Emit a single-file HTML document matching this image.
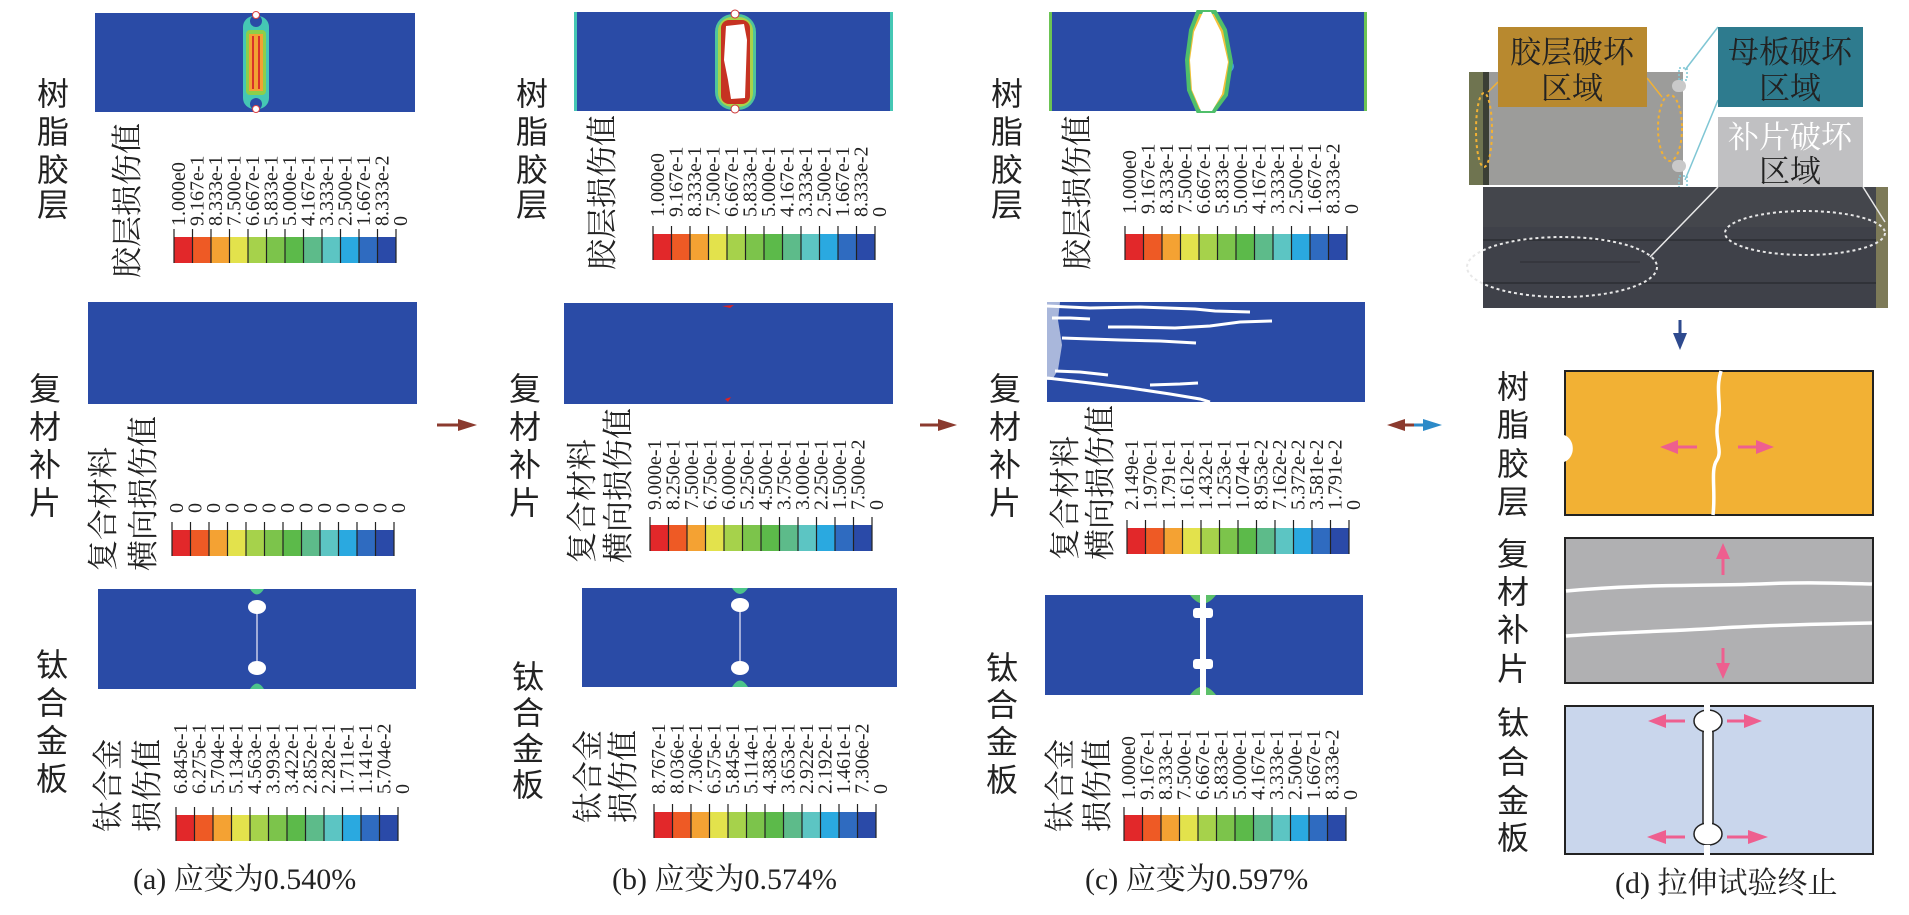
<!DOCTYPE html>
<html><head><meta charset="utf-8"><style>
html,body{margin:0;padding:0;background:#fff;}
svg{display:block;}
.lab{font-family:"Liberation Sans","Noto Sans CJK SC",sans-serif;font-size:32px;fill:#222;text-anchor:middle;}
.ttl{font-family:"Liberation Serif","Noto Serif CJK SC",serif;font-size:31px;fill:#222;}
.num{font-family:"Liberation Serif","Noto Serif CJK SC",serif;font-size:20px;fill:#222;}
.cap{font-family:"Liberation Serif","Noto Serif CJK SC",serif;font-size:30px;fill:#222;}
.box{font-family:"Liberation Serif","Noto Serif CJK SC",serif;font-size:31px;text-anchor:middle;}
</style></head><body>
<svg width="1909" height="915" viewBox="0 0 1909 915" xmlns="http://www.w3.org/2000/svg">
<defs>
<g id="bar">
<rect x="0" y="0" width="18.5" height="1" fill="#e3262b"/>
</g>
<g id="cells">
<rect x="0" width="18.5" height="26" fill="#e2282a"/>
<rect x="18.5" width="18.5" height="26" fill="#ee5a25"/>
<rect x="37" width="18.5" height="26" fill="#f4a233"/>
<rect x="55.5" width="18.5" height="26" fill="#e3e24c"/>
<rect x="74" width="18.5" height="26" fill="#a6d24b"/>
<rect x="92.5" width="18.5" height="26" fill="#7cc44b"/>
<rect x="111" width="18.5" height="26" fill="#5cba4a"/>
<rect x="129.5" width="18.5" height="26" fill="#5dbb8a"/>
<rect x="148" width="18.5" height="26" fill="#5cc5c3"/>
<rect x="166.5" width="18.5" height="26" fill="#2aa9e0"/>
<rect x="185" width="18.5" height="26" fill="#2f6bc0"/>
<rect x="203.5" width="18.5" height="26" fill="#2a4aa8"/>
<g stroke="#222" stroke-width="1.2">
<line x1="0" y1="-8" x2="0" y2="26"/><line x1="18.5" y1="-8" x2="18.5" y2="26"/><line x1="37" y1="-8" x2="37" y2="26"/><line x1="55.5" y1="-8" x2="55.5" y2="26"/><line x1="74" y1="-8" x2="74" y2="26"/><line x1="92.5" y1="-8" x2="92.5" y2="26"/><line x1="111" y1="-8" x2="111" y2="26"/><line x1="129.5" y1="-8" x2="129.5" y2="26"/><line x1="148" y1="-8" x2="148" y2="26"/><line x1="166.5" y1="-8" x2="166.5" y2="26"/><line x1="185" y1="-8" x2="185" y2="26"/><line x1="203.5" y1="-8" x2="203.5" y2="26"/><line x1="222" y1="-8" x2="222" y2="26"/>
</g>
</g>
</defs>

<!-- ============ PANEL A ============ -->
<text class="lab" x="53" y="105">树</text><text class="lab" x="53" y="143">脂</text><text class="lab" x="53" y="181">胶</text><text class="lab" x="53" y="216">层</text>
<text class="lab" x="45" y="400">复</text><text class="lab" x="45" y="438">材</text><text class="lab" x="45" y="476">补</text><text class="lab" x="45" y="514">片</text>
<text class="lab" x="52" y="676">钛</text><text class="lab" x="52" y="714">合</text><text class="lab" x="52" y="752">金</text><text class="lab" x="52" y="790">板</text>

<rect x="95" y="13" width="320" height="99" fill="#2a4ba6"/>
<rect x="243" y="16" width="26" height="93" rx="11" fill="#45c7b4"/>
<rect x="246" y="30" width="20" height="65" rx="4" fill="#8ccf4a"/>
<rect x="249" y="34" width="14" height="57" fill="#f1a233"/>
<line x1="253" y1="36" x2="253" y2="89" stroke="#d8322a" stroke-width="2"/>
<line x1="259" y1="36" x2="259" y2="89" stroke="#d8322a" stroke-width="2"/>
<circle cx="256" cy="21" r="6" fill="#2a4ba6"/><circle cx="256" cy="104" r="6" fill="#2a4ba6"/>
<circle cx="256" cy="15" r="3.5" fill="#fff" stroke="#d44" stroke-width="1"/><circle cx="256" cy="109" r="3.5" fill="#fff" stroke="#d44" stroke-width="1"/>

<text class="ttl" transform="translate(138,278) rotate(-90)">胶层损伤值</text>
<g transform="translate(174,237)"><use href="#cells"/></g>
<g class="num">
<text transform="translate(185,226) rotate(-90)">1.000e0</text>
<text transform="translate(203.5,226) rotate(-90)">9.167e-1</text>
<text transform="translate(222,226) rotate(-90)">8.333e-1</text>
<text transform="translate(240.5,226) rotate(-90)">7.500e-1</text>
<text transform="translate(259,226) rotate(-90)">6.667e-1</text>
<text transform="translate(277.5,226) rotate(-90)">5.833e-1</text>
<text transform="translate(296,226) rotate(-90)">5.000e-1</text>
<text transform="translate(314.5,226) rotate(-90)">4.167e-1</text>
<text transform="translate(333,226) rotate(-90)">3.333e-1</text>
<text transform="translate(351.5,226) rotate(-90)">2.500e-1</text>
<text transform="translate(370,226) rotate(-90)">1.667e-1</text>
<text transform="translate(388.5,226) rotate(-90)">8.333e-2</text>
<text transform="translate(407,226) rotate(-90)">0</text>
</g>

<rect x="88" y="302" width="329" height="102" fill="#2a4ba6"/>
<text class="ttl" transform="translate(114,571) rotate(-90)">复合材料</text>
<text class="ttl" transform="translate(154,571) rotate(-90)">横向损伤值</text>
<g transform="translate(172,530)"><use href="#cells"/></g>
<g class="num">
<text transform="translate(183,513) rotate(-90)">0</text>
<text transform="translate(201.5,513) rotate(-90)">0</text>
<text transform="translate(220,513) rotate(-90)">0</text>
<text transform="translate(238.5,513) rotate(-90)">0</text>
<text transform="translate(257,513) rotate(-90)">0</text>
<text transform="translate(275.5,513) rotate(-90)">0</text>
<text transform="translate(294,513) rotate(-90)">0</text>
<text transform="translate(312.5,513) rotate(-90)">0</text>
<text transform="translate(331,513) rotate(-90)">0</text>
<text transform="translate(349.5,513) rotate(-90)">0</text>
<text transform="translate(368,513) rotate(-90)">0</text>
<text transform="translate(386.5,513) rotate(-90)">0</text>
<text transform="translate(405,513) rotate(-90)">0</text>
</g>

<rect x="98" y="589" width="318" height="100" fill="#2a4ba6"/>
<path d="M250 589 Q257 600 264 589Z M250 689 Q257 678 264 689Z" fill="#4cc48a"/>
<line x1="257" y1="607" x2="257" y2="668" stroke="#c9cde8" stroke-width="1.5"/>
<ellipse cx="257" cy="607" rx="9" ry="7" fill="#fff"/><ellipse cx="257" cy="668" rx="9" ry="7" fill="#fff"/>
<text class="ttl" transform="translate(119,832) rotate(-90)">钛合金</text>
<text class="ttl" transform="translate(158,832) rotate(-90)">损伤值</text>
<g transform="translate(176,815)"><use href="#cells"/></g>
<g class="num">
<text transform="translate(187,794) rotate(-90)">6.845e-1</text>
<text transform="translate(205.5,794) rotate(-90)">6.275e-1</text>
<text transform="translate(224,794) rotate(-90)">5.704e-1</text>
<text transform="translate(242.5,794) rotate(-90)">5.134e-1</text>
<text transform="translate(261,794) rotate(-90)">4.563e-1</text>
<text transform="translate(279.5,794) rotate(-90)">3.993e-1</text>
<text transform="translate(298,794) rotate(-90)">3.422e-1</text>
<text transform="translate(316.5,794) rotate(-90)">2.852e-1</text>
<text transform="translate(335,794) rotate(-90)">2.282e-1</text>
<text transform="translate(353.5,794) rotate(-90)">1.711e-1</text>
<text transform="translate(372,794) rotate(-90)">1.141e-1</text>
<text transform="translate(390.5,794) rotate(-90)">5.704e-2</text>
<text transform="translate(409,794) rotate(-90)">0</text>
</g>
<text class="cap" x="133" y="889">(a) 应变为0.540%</text>

<!-- arrow a->b -->
<line x1="437" y1="425" x2="462" y2="425" stroke="#8b3a2e" stroke-width="3"/>
<path d="M458 419 L477 425 L458 431Z" fill="#8b3a2e"/>

<!-- ============ PANEL B ============ -->
<text class="lab" x="532" y="105">树</text><text class="lab" x="532" y="143">脂</text><text class="lab" x="532" y="181">胶</text><text class="lab" x="532" y="216">层</text>
<text class="lab" x="525" y="400">复</text><text class="lab" x="525" y="438">材</text><text class="lab" x="525" y="476">补</text><text class="lab" x="525" y="514">片</text>
<text class="lab" x="528" y="688">钛</text><text class="lab" x="528" y="724">合</text><text class="lab" x="528" y="760">金</text><text class="lab" x="528" y="796">板</text>

<rect x="574" y="12" width="319" height="99" fill="#2a4ba6"/>
<rect x="574" y="12" width="3" height="99" fill="#45c7b4"/><rect x="890" y="12" width="3" height="99" fill="#45c7b4"/>
<rect x="715" y="14" width="41" height="96" rx="18" fill="#4fc49a"/>
<rect x="718" y="17" width="35" height="90" rx="14" fill="#a9d24a"/>
<rect x="721" y="20" width="29" height="84" rx="8" fill="#c63222"/>
<path d="M726 26 L744 24 L747 40 L745 98 L731 99 L728 80 L724 60Z" fill="#fff"/>
<circle cx="735" cy="14" r="4" fill="#fff" stroke="#c33" stroke-width="1"/><circle cx="735" cy="109" r="4" fill="#fff" stroke="#c33" stroke-width="1"/>
<text class="ttl" transform="translate(613,270) rotate(-90)">胶层损伤值</text>
<g transform="translate(653,234)"><use href="#cells"/></g>
<g class="num">
<text transform="translate(664,217) rotate(-90)">1.000e0</text>
<text transform="translate(682.5,217) rotate(-90)">9.167e-1</text>
<text transform="translate(701,217) rotate(-90)">8.333e-1</text>
<text transform="translate(719.5,217) rotate(-90)">7.500e-1</text>
<text transform="translate(738,217) rotate(-90)">6.667e-1</text>
<text transform="translate(756.5,217) rotate(-90)">5.833e-1</text>
<text transform="translate(775,217) rotate(-90)">5.000e-1</text>
<text transform="translate(793.5,217) rotate(-90)">4.167e-1</text>
<text transform="translate(812,217) rotate(-90)">3.333e-1</text>
<text transform="translate(830.5,217) rotate(-90)">2.500e-1</text>
<text transform="translate(849,217) rotate(-90)">1.667e-1</text>
<text transform="translate(867.5,217) rotate(-90)">8.333e-2</text>
<text transform="translate(886,217) rotate(-90)">0</text>
</g>

<rect x="564" y="303" width="329" height="101" fill="#2a4ba6"/>
<path d="M722 306 L734 305 L730 308Z" fill="#d22"/><path d="M725 399 L731 397 L728 402Z" fill="#d22"/>
<text class="ttl" transform="translate(593,563) rotate(-90)">复合材料</text>
<text class="ttl" transform="translate(629,563) rotate(-90)">横向损伤值</text>
<g transform="translate(650,525)"><use href="#cells"/></g>
<g class="num">
<text transform="translate(661,510) rotate(-90)">9.000e-1</text>
<text transform="translate(679.5,510) rotate(-90)">8.250e-1</text>
<text transform="translate(698,510) rotate(-90)">7.500e-1</text>
<text transform="translate(716.5,510) rotate(-90)">6.750e-1</text>
<text transform="translate(735,510) rotate(-90)">6.000e-1</text>
<text transform="translate(753.5,510) rotate(-90)">5.250e-1</text>
<text transform="translate(772,510) rotate(-90)">4.500e-1</text>
<text transform="translate(790.5,510) rotate(-90)">3.750e-1</text>
<text transform="translate(809,510) rotate(-90)">3.000e-1</text>
<text transform="translate(827.5,510) rotate(-90)">2.250e-1</text>
<text transform="translate(846,510) rotate(-90)">1.500e-1</text>
<text transform="translate(864.5,510) rotate(-90)">7.500e-2</text>
<text transform="translate(883,510) rotate(-90)">0</text>
</g>

<rect x="582" y="588" width="315" height="99" fill="#2a4ba6"/>
<path d="M732 588 Q740 600 748 588Z M732 687 Q740 674 748 687Z" fill="#4cc48a"/>
<line x1="740" y1="605" x2="740" y2="668" stroke="#c9cde8" stroke-width="1.5"/>
<ellipse cx="740" cy="605" rx="9" ry="7" fill="#fff"/><ellipse cx="740" cy="668" rx="9" ry="7" fill="#fff"/>
<text class="ttl" transform="translate(599,823) rotate(-90)">钛合金</text>
<text class="ttl" transform="translate(634,823) rotate(-90)">损伤值</text>
<g transform="translate(654,812)"><use href="#cells"/></g>
<g class="num">
<text transform="translate(665,794) rotate(-90)">8.767e-1</text>
<text transform="translate(683.5,794) rotate(-90)">8.036e-1</text>
<text transform="translate(702,794) rotate(-90)">7.306e-1</text>
<text transform="translate(720.5,794) rotate(-90)">6.575e-1</text>
<text transform="translate(739,794) rotate(-90)">5.845e-1</text>
<text transform="translate(757.5,794) rotate(-90)">5.114e-1</text>
<text transform="translate(776,794) rotate(-90)">4.383e-1</text>
<text transform="translate(794.5,794) rotate(-90)">3.653e-1</text>
<text transform="translate(813,794) rotate(-90)">2.922e-1</text>
<text transform="translate(831.5,794) rotate(-90)">2.192e-1</text>
<text transform="translate(850,794) rotate(-90)">1.461e-1</text>
<text transform="translate(868.5,794) rotate(-90)">7.306e-2</text>
<text transform="translate(887,794) rotate(-90)">0</text>
</g>
<text class="cap" x="612" y="889">(b) 应变为0.574%</text>

<line x1="920" y1="425" x2="942" y2="425" stroke="#8b3a2e" stroke-width="3"/>
<path d="M938 419 L957 425 L938 431Z" fill="#8b3a2e"/>

<!-- ============ PANEL C ============ -->
<text class="lab" x="1007" y="105">树</text><text class="lab" x="1007" y="143">脂</text><text class="lab" x="1007" y="181">胶</text><text class="lab" x="1007" y="216">层</text>
<text class="lab" x="1005" y="400">复</text><text class="lab" x="1005" y="438">材</text><text class="lab" x="1005" y="476">补</text><text class="lab" x="1005" y="514">片</text>
<text class="lab" x="1002" y="679">钛</text><text class="lab" x="1002" y="716">合</text><text class="lab" x="1002" y="753">金</text><text class="lab" x="1002" y="791">板</text>

<rect x="1049" y="12" width="318" height="99" fill="#2a4ba6"/>
<rect x="1049" y="12" width="3" height="99" fill="#6cc454"/><rect x="1364" y="12" width="3" height="99" fill="#6cc454"/>
<path d="M1218 55 Q1250 65 1218 80Z" fill="#3fa3d8"/>
<path d="M1198 12 L1215 12 L1225 30 L1231 62 L1226 95 L1214 111 L1198 111 L1189 90 L1187 60 L1191 30Z" fill="#f2c13a" stroke="#4fbf6a" stroke-width="4"/>
<path d="M1203 12 L1211 12 L1221 32 L1228 62 L1222 94 L1212 111 L1201 111 L1192 90 L1190 60 L1194 32Z" fill="#fff"/>
<text class="ttl" transform="translate(1088,270) rotate(-90)">胶层损伤值</text>
<g transform="translate(1125,234)"><use href="#cells"/></g>
<g class="num">
<text transform="translate(1136,214) rotate(-90)">1.000e0</text>
<text transform="translate(1154.5,214) rotate(-90)">9.167e-1</text>
<text transform="translate(1173,214) rotate(-90)">8.333e-1</text>
<text transform="translate(1191.5,214) rotate(-90)">7.500e-1</text>
<text transform="translate(1210,214) rotate(-90)">6.667e-1</text>
<text transform="translate(1228.5,214) rotate(-90)">5.833e-1</text>
<text transform="translate(1247,214) rotate(-90)">5.000e-1</text>
<text transform="translate(1265.5,214) rotate(-90)">4.167e-1</text>
<text transform="translate(1284,214) rotate(-90)">3.333e-1</text>
<text transform="translate(1302.5,214) rotate(-90)">2.500e-1</text>
<text transform="translate(1321,214) rotate(-90)">1.667e-1</text>
<text transform="translate(1339.5,214) rotate(-90)">8.333e-2</text>
<text transform="translate(1358,214) rotate(-90)">0</text>
</g>

<rect x="1047" y="302" width="318" height="100" fill="#2a4ba6"/>
<g fill="none" stroke="#fff" stroke-width="3">
<polyline points="1047,306 1090,308 1140,307 1195,309 1215,311 1250,312"/>
<polyline points="1108,327 1130,327 1175,328 1210,326 1240,322 1272,321"/>
<polyline points="1062,338 1120,340 1160,341 1196,343"/>
<polyline points="1055,371 1080,372 1108,375"/>
<polyline points="1047,378 1090,383 1130,388 1170,394 1200,399 1210,402"/>
<polyline points="1150,385 1180,384 1198,383"/>
<polyline points="1052,318 1070,318 1090,319"/>
</g>
<path d="M1047 302 L1060 302 L1058 320 L1062 345 L1058 370 L1052 380 L1047 380Z" fill="#fff" opacity="0.6"/>
<text class="ttl" transform="translate(1076,560) rotate(-90)">复合材料</text>
<text class="ttl" transform="translate(1111,560) rotate(-90)">横向损伤值</text>
<g transform="translate(1127,528)"><use href="#cells"/></g>
<g class="num">
<text transform="translate(1138,510) rotate(-90)">2.149e-1</text>
<text transform="translate(1156.5,510) rotate(-90)">1.970e-1</text>
<text transform="translate(1175,510) rotate(-90)">1.791e-1</text>
<text transform="translate(1193.5,510) rotate(-90)">1.612e-1</text>
<text transform="translate(1212,510) rotate(-90)">1.432e-1</text>
<text transform="translate(1230.5,510) rotate(-90)">1.253e-1</text>
<text transform="translate(1249,510) rotate(-90)">1.074e-1</text>
<text transform="translate(1267.5,510) rotate(-90)">8.953e-2</text>
<text transform="translate(1286,510) rotate(-90)">7.162e-2</text>
<text transform="translate(1304.5,510) rotate(-90)">5.372e-2</text>
<text transform="translate(1323,510) rotate(-90)">3.581e-2</text>
<text transform="translate(1341.5,510) rotate(-90)">1.791e-2</text>
<text transform="translate(1360,510) rotate(-90)">0</text>
</g>

<rect x="1045" y="595" width="318" height="100" fill="#2a4ba6"/>
<path d="M1190 595 Q1203 612 1216 595Z M1190 695 Q1203 678 1216 695Z" fill="#5cc06a"/>
<rect x="1200" y="595" width="6" height="100" fill="#fff"/>
<rect x="1193" y="608" width="20" height="10" rx="3" fill="#fff"/>
<rect x="1193" y="659" width="20" height="10" rx="3" fill="#fff"/>
<text class="ttl" transform="translate(1071,832) rotate(-90)">钛合金</text>
<text class="ttl" transform="translate(1108,832) rotate(-90)">损伤值</text>
<g transform="translate(1124,815)"><use href="#cells"/></g>
<g class="num">
<text transform="translate(1135,800) rotate(-90)">1.000e0</text>
<text transform="translate(1153.5,800) rotate(-90)">9.167e-1</text>
<text transform="translate(1172,800) rotate(-90)">8.333e-1</text>
<text transform="translate(1190.5,800) rotate(-90)">7.500e-1</text>
<text transform="translate(1209,800) rotate(-90)">6.667e-1</text>
<text transform="translate(1227.5,800) rotate(-90)">5.833e-1</text>
<text transform="translate(1246,800) rotate(-90)">5.000e-1</text>
<text transform="translate(1264.5,800) rotate(-90)">4.167e-1</text>
<text transform="translate(1283,800) rotate(-90)">3.333e-1</text>
<text transform="translate(1301.5,800) rotate(-90)">2.500e-1</text>
<text transform="translate(1320,800) rotate(-90)">1.667e-1</text>
<text transform="translate(1338.5,800) rotate(-90)">8.333e-2</text>
<text transform="translate(1357,800) rotate(-90)">0</text>
</g>
<text class="cap" x="1085" y="889">(c) 应变为0.597%</text>

<!-- double arrow -->
<path d="M1387 425 L1405 419 L1405 431Z" fill="#8b3a2e"/>
<line x1="1403" y1="425" x2="1414" y2="425" stroke="#8b3a2e" stroke-width="3"/>
<line x1="1414" y1="425" x2="1425" y2="425" stroke="#2c8ac8" stroke-width="3"/>
<path d="M1423 419 L1442 425 L1423 431Z" fill="#2c8ac8"/>

<!-- ============ PANEL D ============ -->
<!-- top photo -->
<rect x="1469" y="72" width="214" height="113" fill="#9c9c9a"/>
<rect x="1469" y="72" width="16" height="113" fill="#6f7450"/>
<rect x="1483" y="72" width="6" height="113" fill="#3b3f35"/>
<rect x="1672" y="80" width="14" height="12" rx="6" fill="#c9c9c9"/>
<rect x="1672" y="160" width="14" height="12" rx="6" fill="#c9c9c9"/>
<ellipse cx="1484" cy="130" rx="8" ry="37" fill="none" stroke="#f2b134" stroke-width="2" stroke-dasharray="3,3"/>
<ellipse cx="1670" cy="128" rx="12" ry="33" fill="none" stroke="#f2b134" stroke-width="2" stroke-dasharray="3,3"/>
<rect x="1679" y="68" width="8" height="12" fill="none" stroke="#7fc6d4" stroke-width="1.5" stroke-dasharray="2,2"/>
<rect x="1679" y="176" width="8" height="12" fill="none" stroke="#7fc6d4" stroke-width="1.5" stroke-dasharray="2,2"/>
<!-- dark photo -->
<rect x="1483" y="187" width="405" height="121" fill="#3f4149"/>
<rect x="1483" y="187" width="405" height="40" fill="#47494f" opacity="0.6"/>
<rect x="1876" y="187" width="12" height="121" fill="#7d7a58"/>
<line x1="1483" y1="240" x2="1876" y2="240" stroke="#2c2d33" stroke-width="1.5"/>
<line x1="1483" y1="283" x2="1876" y2="283" stroke="#2c2d33" stroke-width="1.5"/>
<line x1="1520" y1="262" x2="1640" y2="262" stroke="#2c2d33" stroke-width="1"/>
<ellipse cx="1562" cy="267" rx="95" ry="30" fill="none" stroke="#e8e8e8" stroke-width="2" stroke-dasharray="3,3"/>
<ellipse cx="1805" cy="233" rx="80" ry="22" fill="none" stroke="#e8e8e8" stroke-width="2" stroke-dasharray="3,3"/>
<!-- leader lines -->
<line x1="1498" y1="82" x2="1488" y2="92" stroke="#f2b134" stroke-width="1.5"/>
<line x1="1647" y1="78" x2="1662" y2="97" stroke="#f2b134" stroke-width="1.5"/>
<line x1="1718" y1="27" x2="1685" y2="70" stroke="#7fc6d4" stroke-width="1.5"/>
<line x1="1718" y1="100" x2="1685" y2="180" stroke="#7fc6d4" stroke-width="1.5"/>
<line x1="1718" y1="187" x2="1650" y2="257" stroke="#e8e8e8" stroke-width="1.5"/>
<line x1="1863" y1="187" x2="1885" y2="222" stroke="#e8e8e8" stroke-width="1.5"/>
<!-- boxes -->
<rect x="1498" y="27" width="149" height="80" fill="#b8892f"/>
<text class="box" x="1572" y="63" fill="#222">胶层破坏</text>
<text class="box" x="1572" y="99" fill="#222">区域</text>
<rect x="1718" y="27" width="145" height="80" fill="#2e7b8e"/>
<text class="box" x="1790" y="63" fill="#222">母板破坏</text>
<text class="box" x="1790" y="99" fill="#222">区域</text>
<rect x="1718" y="117" width="145" height="70" fill="#c0c0c2"/>
<text class="box" x="1790" y="148" fill="#fff">补片破坏</text>
<text class="box" x="1790" y="182" fill="#222">区域</text>
<!-- down arrow -->
<line x1="1680" y1="320" x2="1680" y2="335" stroke="#2e4a8e" stroke-width="3"/>
<path d="M1673 333 L1687 333 L1680 350Z" fill="#2e4a8e"/>

<!-- schematic labels -->
<text class="lab" x="1513" y="398">树</text><text class="lab" x="1513" y="436">脂</text><text class="lab" x="1513" y="475">胶</text><text class="lab" x="1513" y="513">层</text>
<text class="lab" x="1513" y="565">复</text><text class="lab" x="1513" y="603">材</text><text class="lab" x="1513" y="641">补</text><text class="lab" x="1513" y="680">片</text>
<text class="lab" x="1513" y="734">钛</text><text class="lab" x="1513" y="773">合</text><text class="lab" x="1513" y="812">金</text><text class="lab" x="1513" y="849">板</text>

<!-- orange -->
<rect x="1565" y="371" width="308" height="144" fill="#f2b134" stroke="#222" stroke-width="2"/>
<path d="M1564 435 A12 14 0 0 1 1564 462Z" fill="#fff"/>
<path d="M1721 371 C1715 390,1722 405,1718 420 C1714 440,1723 450,1717 460 C1710 470,1716 490,1713 515" fill="none" stroke="#fff" stroke-width="3.5"/>
<line x1="1697" y1="447" x2="1675" y2="447" stroke="#ee5f8f" stroke-width="3"/><path d="M1678 440 L1660 447 L1678 454Z" fill="#ee5f8f"/>
<line x1="1738" y1="447" x2="1758" y2="447" stroke="#ee5f8f" stroke-width="3"/><path d="M1756 440 L1774 447 L1756 454Z" fill="#ee5f8f"/>
<!-- gray -->
<rect x="1565" y="538" width="308" height="145" fill="#b0b0b2" stroke="#222" stroke-width="2"/>
<path d="M1566 591 C1640 584,1700 586,1760 584 C1800 582,1830 583,1872 584" fill="none" stroke="#fff" stroke-width="3.5"/>
<path d="M1566 636 C1620 632,1680 631,1720 628 C1770 625,1820 624,1872 623" fill="none" stroke="#fff" stroke-width="3.5"/>
<line x1="1723" y1="575" x2="1723" y2="556" stroke="#ee5f8f" stroke-width="3"/><path d="M1716 559 L1723 543 L1730 559Z" fill="#ee5f8f"/>
<line x1="1723" y1="648" x2="1723" y2="665" stroke="#ee5f8f" stroke-width="3"/><path d="M1716 663 L1723 679 L1730 663Z" fill="#ee5f8f"/>
<!-- blue -->
<rect x="1565" y="706" width="308" height="148" fill="#c9d6ec" stroke="#222" stroke-width="2"/>
<rect x="1703" y="720" width="10" height="114" fill="#fff" stroke="#222" stroke-width="1.5"/>
<ellipse cx="1708" cy="721" rx="14" ry="11" fill="#fff" stroke="#222" stroke-width="1.5"/>
<ellipse cx="1708" cy="834" rx="14" ry="11" fill="#fff" stroke="#222" stroke-width="1.5"/>
<rect x="1704" y="715" width="8" height="125" fill="#fff"/>
<rect x="1704" y="700" width="6" height="12" fill="#fff"/><rect x="1704" y="845" width="6" height="12" fill="#fff"/>
<line x1="1685" y1="721" x2="1665" y2="721" stroke="#ee5f8f" stroke-width="3"/><path d="M1666 714 L1648 721 L1666 728Z" fill="#ee5f8f"/>
<line x1="1727" y1="721" x2="1746" y2="721" stroke="#ee5f8f" stroke-width="3"/><path d="M1744 714 L1762 721 L1744 728Z" fill="#ee5f8f"/>
<line x1="1685" y1="837" x2="1665" y2="837" stroke="#ee5f8f" stroke-width="3"/><path d="M1666 830 L1647 837 L1666 844Z" fill="#ee5f8f"/>
<line x1="1727" y1="837" x2="1750" y2="837" stroke="#ee5f8f" stroke-width="3"/><path d="M1748 830 L1768 837 L1748 844Z" fill="#ee5f8f"/>
<text class="cap" x="1615" y="893">(d) 拉伸试验终止</text>
</svg>
</body></html>
